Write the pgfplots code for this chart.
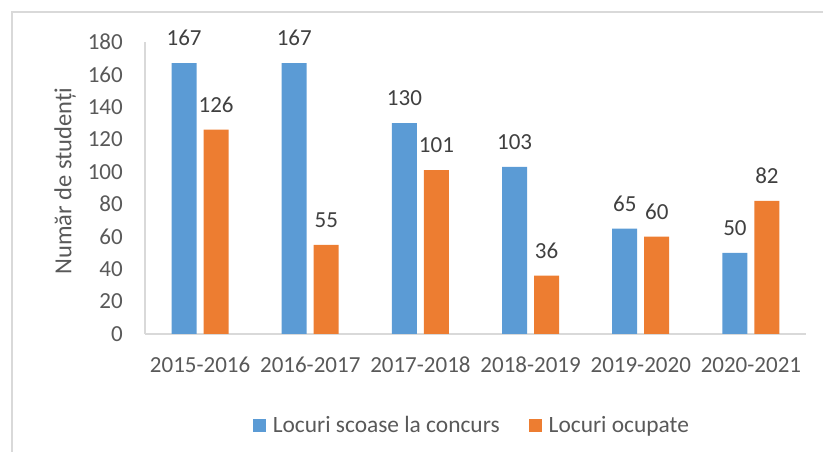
\documentclass[border=0pt]{standalone}
\usepackage{fontspec}
\setmainfont{Carlito}
\usepackage{pgfplots}
\pgfplotsset{compat=1.18}
\definecolor{cblue}{HTML}{5B9BD5}
\definecolor{corange}{HTML}{ED7D31}
\definecolor{axgray}{HTML}{D9D9D9}
\definecolor{txtgray}{HTML}{595959}
\definecolor{lblgray}{HTML}{404040}
\newcommand{\cf}{\fontsize{23}{27}\selectfont}
\begin{document}
\begin{tikzpicture}
\path[use as bounding box] (0,0) rectangle (823pt,452pt);
\draw[axgray, line width=2pt] (12pt,0) -- (12pt,440pt) -- (823pt,440pt);
\begin{axis}[
  at={(145pt,118pt)}, anchor=south west,
  scale only axis, width=661pt, height=292pt,
  ybar=7pt, bar width=25pt,
  xmin=-0.5, xmax=5.5, ymin=0, ymax=180,
  xtick={0,1,2,3,4,5},
  xticklabels={2015-2016,2016-2017,2017-2018,2018-2019,2019-2020,2020-2021},
  ytick={0,20,...,180},
  axis x line*=bottom, axis y line*=left,
  axis line style={axgray, line width=1.5pt},
  major tick length=0pt,
  /pgf/number format/assume math mode=true,
  tick label style={font=\cf, text=txtgray, inner sep=0pt},
  xticklabel style={anchor=north, yshift=-23pt},
  yticklabel style={anchor=east, xshift=-22pt},
  ylabel={Număr de studenți},
  ylabel style={at={(axis description cs:-0.121,0.524)}, anchor=center, font=\fontsize{24.5}{28}\selectfont, text=txtgray},
  nodes near coords,
  nodes near coords style={font=\cf, text=lblgray, anchor=south, inner sep=0pt, yshift=17pt},
  legend columns=2,
  legend style={at={(axis description cs:0.493,-0.312)}, anchor=center, draw=none, fill=none,
    font=\fontsize{23.4}{27}\selectfont, text=txtgray, nodes={inner sep=0pt},
    /tikz/every even column/.append style={column sep=29pt},
    /tikz/every odd column/.append style={column sep=7pt}},
  every axis plot post/.append style={
    legend image code/.code={\fill[##1] (0pt,-6.5pt) rectangle (13pt,6.5pt);}},
]
\addplot[fill=cblue, draw=none] coordinates {(0,167) (1,167) (2,130) (3,103) (4,65) (5,50)};
\addplot[fill=corange, draw=none] coordinates {(0,126) (1,55) (2,101) (3,36) (4,60) (5,82)};
\legend{Locuri scoase la concurs, Locuri ocupate}
\end{axis}
\end{tikzpicture}
\end{document}
